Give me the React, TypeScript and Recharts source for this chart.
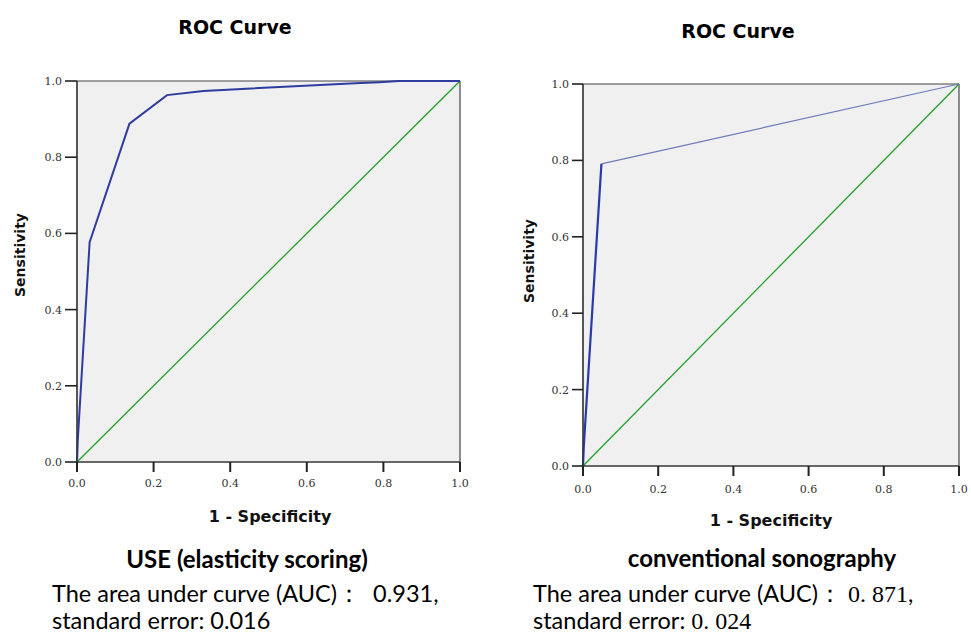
import React from 'react';
import { LineChart, Line, XAxis, YAxis, CartesianGrid } from 'recharts';

// ---- data ----
const xTicks = [0, 0.2, 0.4, 0.6, 0.8, 1.0];
const yTicks = [0, 0.2, 0.4, 0.6, 0.8, 1.0];

const useFpr = [0, 0.002, 0.033, 0.137, 0.235, 0.33, 0.74, 0.79, 0.84, 1];
const useTpr = [0, 0.057, 0.577, 0.888, 0.963, 0.974, 0.995, 0.997, 1, 1];

const convFprA = [0, 0.002, 0.049];
const convTprA = [0, 0.05, 0.791];
const convFprB = [0.049, 1];
const convTprB = [0.791, 1];

const refFpr = [0, 1];
const refTpr = [0, 1];

const toPts = (xs: number[], ys: number[]) => xs.map((x, i) => ({ x, y: ys[i] }));

type Curve = { pts: { x: number; y: number }[]; color: string; width: number };

const TICK_FONT = { fontFamily: 'DejaVu Serif', fontSize: 11, fill: '#333' };

function Panel(props: {
  left: number;
  width: number;
  height: number;
  margin: { top: number; right: number; bottom: number; left: number };
  curves: Curve[];
  yTickSize: number;
  xTickMargin: number;
}) {
  const { left, width, height, margin, curves, yTickSize, xTickMargin } = props;
  return (
    <div style={{ position: 'absolute', left, top: 0 }}>
      <LineChart width={width} height={height} margin={margin}>
        <CartesianGrid
          fill="#f0f0f0"
          stroke="#444"
          strokeWidth={1.2}
          horizontalCoordinatesGenerator={({ offset }: any) => [offset.top, offset.top + offset.height]}
          verticalCoordinatesGenerator={({ offset }: any) => [offset.left, offset.left + offset.width]}
        />
        <XAxis
          type="number"
          dataKey="x"
          domain={[0, 1]}
          ticks={xTicks}
          interval={0}
          tickFormatter={(v: number) => v.toFixed(1)}
          axisLine={{ stroke: '#333', strokeWidth: 1.2 }}
          tickLine={{ stroke: '#222', strokeWidth: 2 }}
          tickSize={10}
          tickMargin={xTickMargin}
          tick={TICK_FONT}
          height={30}
        />
        <YAxis
          type="number"
          dataKey="y"
          domain={[0, 1]}
          ticks={yTicks}
          interval={0}
          tickFormatter={(v: number) => v.toFixed(1)}
          axisLine={{ stroke: '#333', strokeWidth: 1.2 }}
          tickLine={{ stroke: '#222', strokeWidth: 1.6 }}
          tickSize={yTickSize}
          tickMargin={3}
          tick={TICK_FONT}
          width={50}
        />
        <Line
          data={toPts(refFpr, refTpr)}
          dataKey="y"
          type="linear"
          stroke="#22a02a"
          strokeWidth={1.3}
          dot={false}
          activeDot={false}
          isAnimationActive={false}
        />
        {curves.map((c, i) => (
          <Line
            key={i}
            data={c.pts}
            dataKey="y"
            type="linear"
            stroke={c.color}
            strokeWidth={c.width}
            dot={false}
            activeDot={false}
            isAnimationActive={false}
          />
        ))}
      </LineChart>
    </div>
  );
}

const abs = (s: React.CSSProperties): React.CSSProperties => ({ position: 'absolute', whiteSpace: 'nowrap', ...s });

export default function App() {
  const titleStyle: React.CSSProperties = {
    fontFamily: 'DejaVu Sans',
    fontWeight: 'bold',
    fontSize: 19,
    color: '#000',
  };
  const axTitle: React.CSSProperties = {
    fontFamily: 'DejaVu Sans',
    fontWeight: 'bold',
    fontSize: 16,
    color: '#111',
  };
  const capBold: React.CSSProperties = {
    fontFamily: 'Lato',
    fontWeight: 'bold',
    fontSize: 24,
    color: '#000',
    lineHeight: '28px',
  };
  const capReg: React.CSSProperties = {
    fontFamily: 'Lato',
    fontSize: 23.5,
    color: '#000',
    lineHeight: '26px',
  };
  const serifNum: React.CSSProperties = { fontFamily: 'Liberation Serif', fontSize: 24 };

  return (
    <div style={{ position: 'absolute', left: 0, top: 0, width: 971, height: 634, background: '#fff', overflow: 'hidden' }}>
      <Panel
        left={0}
        width={480}
        height={530}
        margin={{ top: 81, right: 20, bottom: 38, left: 27 }}
        curves={[{ pts: toPts(useFpr, useTpr), color: '#2d3c9e', width: 2 }]}
        yTickSize={12}
        xTickMargin={7}
      />
      <Panel
        left={500}
        width={471}
        height={530}
        margin={{ top: 84, right: 12, bottom: 34, left: 33 }}
        curves={[
          { pts: toPts(convFprB, convTprB), color: '#6f7cba', width: 1.2 },
          { pts: toPts(convFprA, convTprA), color: '#2a3aa8', width: 2.2 },
        ]}
        yTickSize={11}
        xTickMargin={9}
      />

      {/* titles */}
      <div style={abs({ ...titleStyle, left: 235, top: 27, transform: 'translate(-50%, -50%)' })}>ROC Curve</div>
      <div style={abs({ ...titleStyle, left: 738, top: 31, transform: 'translate(-50%, -50%)' })}>ROC Curve</div>

      {/* axis titles */}
      <div style={abs({ ...axTitle, left: 270, top: 516, transform: 'translate(-50%, -50%)' })}>1 - Specificity</div>
      <div style={abs({ ...axTitle, left: 771, top: 520, transform: 'translate(-50%, -50%)' })}>1 - Specificity</div>
      <div style={abs({ ...axTitle, fontSize: 14, left: 20, top: 255, transform: 'translate(-50%, -50%) rotate(-90deg)' })}>Sensitivity</div>
      <div style={abs({ ...axTitle, fontSize: 14, left: 529, top: 261, transform: 'translate(-50%, -50%) rotate(-90deg)' })}>Sensitivity</div>

      {/* captions left */}
      <div style={abs({ ...capBold, left: 247, top: 559, transform: 'translate(-50%, -50%)' })}>USE (elasticity scoring)</div>
      <div style={abs({ ...capReg, left: 52, top: 580 })}>The area under curve (AUC)：&nbsp; 0.931,</div>
      <div style={abs({ ...capReg, left: 52, top: 607 })}>standard error: 0.016</div>

      {/* captions right */}
      <div style={abs({ ...capBold, left: 762, top: 558, transform: 'translate(-50%, -50%)' })}>conventional sonography</div>
      <div style={abs({ ...capReg, left: 533, top: 580 })}>
        The area under curve (AUC)：&nbsp;<span style={serifNum}>0. 871</span>,
      </div>
      <div style={abs({ ...capReg, left: 533, top: 607 })}>
        standard error: <span style={serifNum}>0. 024</span>
      </div>
    </div>
  );
}
